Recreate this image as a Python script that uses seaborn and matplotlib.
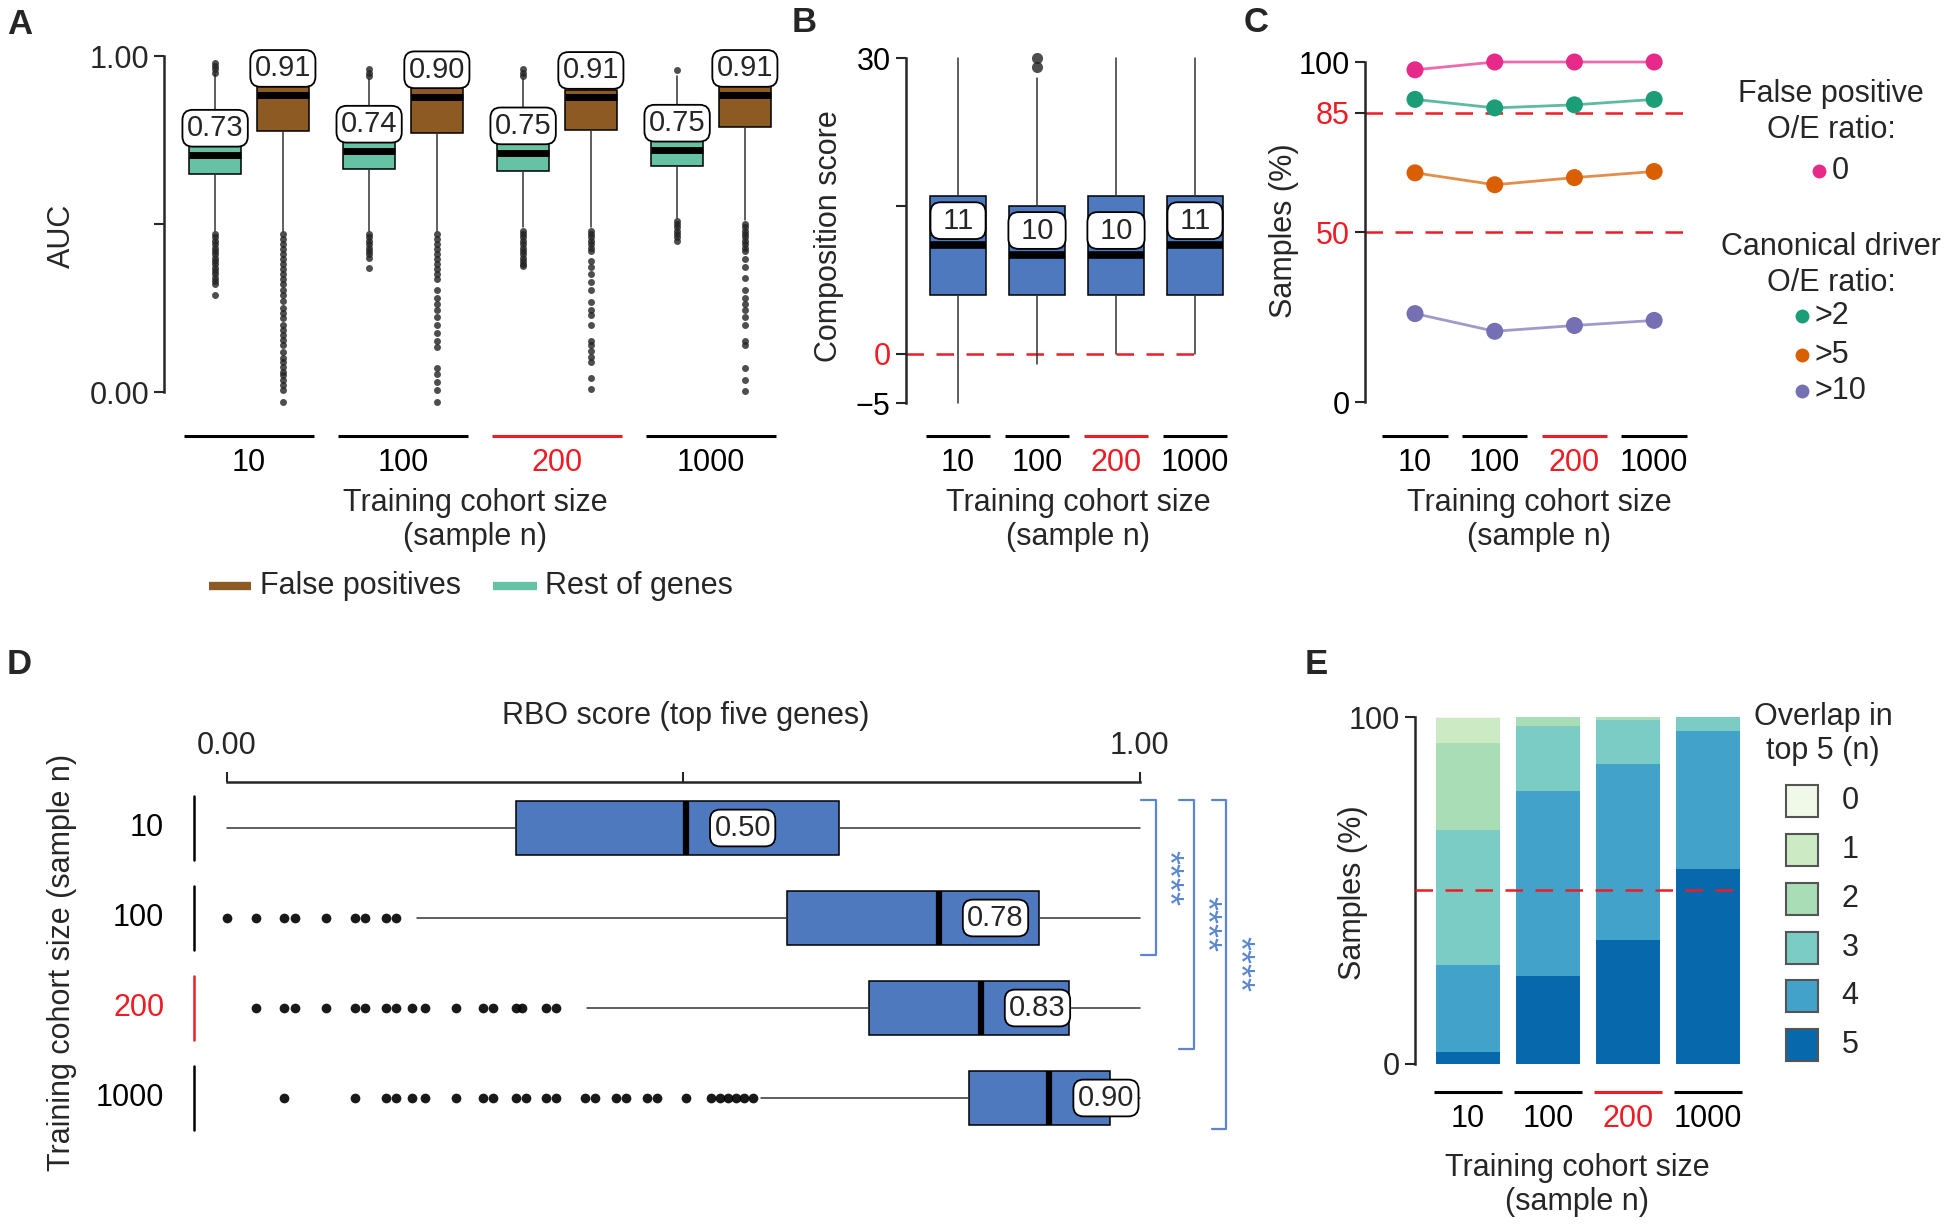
import numpy as np
import pandas as pd
import matplotlib
matplotlib.use('Agg')
import matplotlib.pyplot as plt
import seaborn as sns
from matplotlib.patches import Rectangle

# ---- data ----
sizes = ['10', '100', '200', '1000']
size_colors = ['black', 'black', '#EE1C25', 'black']

# A: AUC, rest of genes (teal) and false positives (brown)
rest_q1 = [0.648, 0.665, 0.657, 0.674]
rest_med = [0.705, 0.717, 0.712, 0.720]
rest_q3 = [0.733, 0.744, 0.744, 0.747]
rest_lo = [0.478, 0.478, 0.490, 0.519]
rest_hi = [0.945, 0.933, 0.933, 0.939]
rest_out = [
    [0.95, 0.96, 0.97, 0.98, 0.47, 0.46, 0.45, 0.44, 0.43, 0.42, 0.41, 0.40, 0.39, 0.38,
     0.37, 0.36, 0.35, 0.34, 0.33, 0.32, 0.29],
    [0.94, 0.95, 0.96, 0.47, 0.46, 0.45, 0.44, 0.43, 0.42, 0.41, 0.40, 0.37],
    [0.94, 0.95, 0.96, 0.48, 0.47, 0.46, 0.45, 0.44, 0.43, 0.42, 0.41, 0.40, 0.39, 0.38, 0.375],
    [0.957, 0.51, 0.50, 0.49, 0.48, 0.47, 0.46, 0.45],
]
rest_lab = ['0.73', '0.74', '0.75', '0.75']

fp_q1 = [0.776, 0.772, 0.780, 0.788]
fp_med = [0.883, 0.879, 0.877, 0.883]
fp_q3 = [0.912, 0.912, 0.900, 0.910]
fp_lo = [0.478, 0.478, 0.490, 0.513]
fp_hi = [0.985, 0.985, 0.985, 0.985]
fp_out = [
    [0.47, 0.455, 0.44, 0.425, 0.41, 0.395, 0.38, 0.365, 0.35, 0.335, 0.32, 0.305, 0.29, 0.27,
     0.25, 0.235, 0.22, 0.20, 0.185, 0.17, 0.155, 0.14, 0.12, 0.10, 0.09, 0.075, 0.06, 0.05,
     0.035, 0.02, 0.005, -0.03],
    [0.47, 0.455, 0.44, 0.425, 0.41, 0.395, 0.38, 0.365, 0.35, 0.335, 0.303, 0.28, 0.262,
     0.245, 0.222, 0.198, 0.175, 0.152, 0.134, 0.07, 0.053, 0.029, 0.006, -0.03],
    [0.48, 0.47, 0.46, 0.45, 0.44, 0.43, 0.42, 0.391, 0.373, 0.35, 0.327, 0.303, 0.268, 0.245,
     0.228, 0.198, 0.152, 0.14, 0.123, 0.105, 0.088, 0.041, 0.008],
    [0.50, 0.49, 0.48, 0.47, 0.46, 0.45, 0.44, 0.43, 0.42, 0.397, 0.373, 0.338, 0.303, 0.28,
     0.262, 0.245, 0.222, 0.198, 0.152, 0.14, 0.07, 0.035, 0.002],
]
fp_lab = ['0.91', '0.90', '0.91', '0.91']

# B: composition score
comp_q1 = [6, 6, 6, 6]
comp_med = [11, 10, 10, 11]
comp_q3 = [16, 15, 16, 16]
comp_lo = [-5, -1, 0, 0]
comp_hi = [30, 28, 30, 30]
comp_out = [[], [30, 29.1], [], []]
comp_lab = ['11', '10', '10', '11']

# C: samples (%)
fp_zero = [97.7, 100, 100, 100]
drv_2 = [89.0, 86.5, 87.4, 89.0]
drv_5 = [67.4, 63.9, 66.0, 67.8]
drv_10 = [26.0, 20.8, 22.5, 24.0]

# D: RBO score
rbo_q1 = [0.317, 0.614, 0.703, 0.813]
rbo_med = [0.503, 0.780, 0.826, 0.901]
rbo_q3 = [0.671, 0.890, 0.923, 0.967]
rbo_lo = [0.0, 0.208, 0.394, 0.585]
rbo_hi = [1.0, 1.0, 1.0, 1.0]
rbo_out = [
    [],
    [0.0, 0.032, 0.063, 0.074, 0.108, 0.140, 0.151, 0.174, 0.185],
    [0.032, 0.063, 0.074, 0.108, 0.140, 0.151, 0.174, 0.185, 0.203, 0.217, 0.251, 0.280,
     0.292, 0.317, 0.323, 0.349, 0.360],
    [0.063, 0.140, 0.174, 0.185, 0.203, 0.217, 0.251, 0.280, 0.292, 0.317, 0.328, 0.349,
     0.360, 0.392, 0.403, 0.426, 0.437, 0.460, 0.471, 0.503, 0.530, 0.540, 0.549, 0.558,
     0.567, 0.576],
]
rbo_lab = ['0.50', '0.78', '0.83', '0.90']

# E: overlap in top 5, levels 0..5 (% of samples)
overlap_levels = ['0', '1', '2', '3', '4', '5']
ov_10 = [0.3, 7.2, 25.0, 39.0, 25.0, 3.5]
ov_100 = [0, 0, 2.5, 18.9, 53.3, 25.3]
ov_200 = [0, 0, 0.9, 12.5, 50.9, 35.7]
ov_1000 = [0, 0, 0, 4.1, 39.8, 56.1]

# ---- style ----
sns.set_style('white')
plt.rcParams['font.family'] = ['Liberation Sans', 'DejaVu Sans']
plt.rcParams['font.size'] = 22

RED = '#EE1C25'
TEAL = '#66C2A5'
BROWN = '#8C5A22'
BLUE = '#4F79BF'
BRK = '#5A87CD'
FS = 22

W, H = 1946, 1225
fig = plt.figure(figsize=(W / 100, H / 100), dpi=100)


def px_axes(x0, y0, x1, y1):
    ax = fig.add_axes([x0 / W, 1 - y1 / H, (x1 - x0) / W, (y1 - y0) / H])
    ax.patch.set_alpha(0)
    return ax


def make_stats(q1, med, q3, lo, hi, out):
    return [dict(q1=a, med=b, q3=c, whislo=d, whishi=e, fliers=f)
            for a, b, c, d, e, f in zip(q1, med, q3, lo, hi, out)]


def box_kw(face, med_lw, fsize, fcol='#222222', falpha=0.8):
    return dict(patch_artist=True, showcaps=False,
                boxprops=dict(facecolor=face, edgecolor='black', linewidth=1.1),
                medianprops=dict(color='black', linewidth=med_lw, solid_capstyle='butt'),
                whiskerprops=dict(color='#333333', linewidth=1.1),
                flierprops=dict(marker='o', markerfacecolor=fcol, markeredgecolor='none',
                                markersize=fsize, alpha=falpha))


def left_axis(ax, lo, hi, ticks, labels, label_colors=None):
    for s in ['top', 'right', 'bottom']:
        ax.spines[s].set_visible(False)
    ax.spines['left'].set_bounds(lo, hi)
    ax.spines['left'].set_linewidth(1.8)
    ax.set_yticks(ticks)
    ax.set_yticklabels(labels)
    ax.tick_params(axis='y', length=7, width=1.5, pad=4, labelsize=FS, left=True)
    ax.set_xticks([])
    if label_colors:
        for tl, c in zip(ax.get_yticklabels(), label_colors):
            tl.set_color(c)


def groups(ax, box, line_py, lab_py, half):
    tr = ax.get_xaxis_transform()
    fl = (box[3] - line_py) / (box[3] - box[1])
    ft = (box[3] - lab_py) / (box[3] - box[1])
    for i, (s, c) in enumerate(zip(sizes, size_colors)):
        ax.plot([i - half, i + half], [fl, fl], transform=tr, color=c, lw=2.2,
                clip_on=False, solid_capstyle='butt')
        ax.text(i, ft, s, transform=tr, color=c, ha='center', va='center', fontsize=FS)


lab_box = dict(boxstyle='round,pad=0.15,rounding_size=0.35', fc='white', ec='black', lw=1.3)

# overlay for free text
ov = fig.add_axes([0, 0, 1, 1])
ov.set_xlim(0, W)
ov.set_ylim(H, 0)
ov.axis('off')


def txt(x, y, s, **kw):
    kw.setdefault('fontsize', FS)
    kw.setdefault('ha', 'center')
    kw.setdefault('va', 'center')
    ov.text(x, y, s, **kw)


pos = np.arange(4)

# ---- A ----
boxA = (164.3, 22.4, 795.7, 425.6)
axA = px_axes(*boxA)
axA.bxp(make_stats(rest_q1, rest_med, rest_q3, rest_lo, rest_hi, rest_out),
        positions=pos - 0.22, widths=0.34, **box_kw(TEAL, 5, 5))
axA.bxp(make_stats(fp_q1, fp_med, fp_q3, fp_lo, fp_hi, fp_out),
        positions=pos + 0.22, widths=0.34, **box_kw(BROWN, 5, 5))
for i in range(4):
    axA.text(i - 0.22, rest_med[i] + 0.08, rest_lab[i], ha='center', va='center',
             fontsize=21, bbox=lab_box, zorder=6)
    axA.text(i + 0.22, fp_med[i] + 0.08, fp_lab[i], ha='center', va='center',
             fontsize=21, bbox=lab_box, zorder=6)
axA.set_xlim(-0.55, 3.55)
axA.set_ylim(-0.1, 1.1)
left_axis(axA, 0, 1, [0, 0.5, 1], ['0.00', '', '1.00'])
groups(axA, boxA, 436, 463, 0.42)

# ---- B ----
boxB = (905.9, 45.2, 1234.5, 409.9)
axB = px_axes(*boxB)
axB.axhline(0, xmin=0, xmax=(3 + 0.66) / 4.16, color=RED, lw=1.8, dashes=(7, 5), zorder=0)
axB.bxp(make_stats(comp_q1, comp_med, comp_q3, comp_lo, comp_hi, comp_out),
        positions=pos, widths=0.72, **box_kw(BLUE, 5.5, 8, '#222222'))
for i in range(4):
    axB.text(i, comp_med[i] + 2.5, ' ' + comp_lab[i] + ' ', ha='center', va='center',
             fontsize=21, bbox=lab_box, zorder=6)
axB.set_xlim(-0.66, 3.5)
axB.set_ylim(-5.7, 31.3)
left_axis(axB, -5, 30, [-5, 0, 15, 30], ['\u22125', '0', '', '30'],
          ['black', RED, 'black', 'black'])
groups(axB, boxB, 436, 463, 0.41)

# ---- C ----
boxC = (1364.8, 51.8, 1690.0, 412.2)
axC = px_axes(*boxC)
c_groups = ['0', '>2', '>5', '>10']
c_pal = {'0': '#E7298A', '>2': '#1B9E77', '>5': '#D95F02', '>10': '#7570B3'}
c_df = pd.DataFrame({
    'pos': np.tile(pos, 4),
    'val': fp_zero + drv_2 + drv_5 + drv_10,
    'grp': np.repeat(c_groups, 4),
})
for yv in [85, 50]:
    axC.axhline(yv, color=RED, lw=1.8, dashes=(7, 5), zorder=0)
sns.lineplot(data=c_df, x='pos', y='val', hue='grp', palette=c_pal, lw=2, alpha=0.7,
             legend=False, ax=axC)
sns.scatterplot(data=c_df, x='pos', y='val', hue='grp', palette=c_pal, s=150, linewidth=0,
                legend=False, ax=axC, zorder=3)
axC.set_xlabel('')
axC.set_ylabel('')
axC.set_xlim(-0.63, 3.45)
axC.set_ylim(-3, 103)
left_axis(axC, 0, 100, [0, 50, 85, 100], ['0', '50', '85', '100'],
          ['black', RED, RED, 'black'])
groups(axC, boxC, 436, 463, 0.41)

# C legend
txt(1831, 112, 'False positive\nO/E ratio:', linespacing=1.25)
ov.plot(1819, 171, 'o', ms=10, color=c_pal['0'], mec='none')
txt(1832, 171, '0', ha='left')
txt(1831, 265, 'Canonical driver\nO/E ratio:', linespacing=1.25)
for g, yy in zip(['>2', '>5', '>10'], [316, 355, 391]):
    ov.plot(1802, yy, 'o', ms=10, color=c_pal[g], mec='none')
    txt(1815, yy, g, ha='left')

# ---- D ----
boxD = (194.1, 782.1, 1304.0, 1143.0)
axD = px_axes(*boxD)
axD.bxp(make_stats(rbo_q1, rbo_med, rbo_q3, rbo_lo, rbo_hi, rbo_out),
        positions=pos, widths=0.6, vert=False, **box_kw(BLUE, 4.5, 7, 'black', 0.9))
for i in range(4):
    axD.text(rbo_med[i] + 0.062, i, rbo_lab[i], ha='center', va='center',
             fontsize=21, bbox=lab_box, zorder=6)
axD.set_xlim(-0.036, 1.18)
axD.set_ylim(3.5, -0.51)
for s in ['left', 'right', 'bottom']:
    axD.spines[s].set_visible(False)
axD.spines['top'].set_bounds(0, 1)
axD.spines['top'].set_linewidth(1.8)
axD.set_yticks([])
axD.set_xticks([0, 0.5, 1])
axD.set_xticklabels(['0.00', '', '1.00'])
axD.tick_params(axis='x', top=True, bottom=False, labeltop=True, labelbottom=False,
                length=7, width=1.5, pad=8, labelsize=FS)
trD = axD.get_yaxis_transform()
for i, (s, c) in enumerate(zip(sizes, size_colors)):
    axD.plot([0, 0], [i - 0.36, i + 0.36], transform=trD, color=c, lw=1.8, clip_on=False)
    axD.text(-0.027, i, s, transform=trD, color=c, ha='right', va='center', fontsize=FS)
# significance brackets against the 10-sample cohort
br_x = [1.0175, 1.059, 1.095]
br_end = [0.41, 0.45, 0.34]
for k, (bx, be) in enumerate(zip(br_x, br_end)):
    y0, y1 = -0.31, k + 1 + be
    axD.plot([bx - 0.016, bx, bx, bx - 0.016], [y0, y0, y1, y1], color=BRK, lw=1.6,
             clip_on=False)
    axD.text(bx + 0.011, (y0 + y1) / 2, '****', rotation=-90, ha='center', va='center',
             color=BRK, fontsize=26)
txt(686, 716, 'RBO score (top five genes)')

# ---- E ----
boxE = (1415.2, 706.6, 1748.0, 1074.4)
axE = px_axes(*boxE)
gnbu = ['#F0F9E8', '#CCEBC5', '#A8DDB5', '#7BCCC4', '#43A2CA', '#0868AC']
ov_mat = np.array([ov_10, ov_100, ov_200, ov_1000]).T
for lev in range(6):
    top = ov_mat[lev:].sum(axis=0)
    sns.barplot(x=sizes, y=top, order=sizes, color=gnbu[lev], width=0.8, saturation=1,
                errorbar=None, linewidth=0, ax=axE)
axE.axhline(50, xmin=0, xmax=(3.4 + 0.66) / 4.16, color=RED, lw=1.8, dashes=(7, 5), zorder=5)
axE.set_xlabel('')
axE.set_ylabel('')
axE.set_xlim(-0.66, 3.5)
axE.set_ylim(-3, 103)
left_axis(axE, 0, 100, [0, 100], ['0', '100'])
groups(axE, boxE, 1092, 1119, 0.42)

# E legend
txt(1823, 734, 'Overlap in\ntop 5 (n)', linespacing=1.15)
for lev, yy in zip(range(6), [801, 850, 899, 948, 996, 1045]):
    ov.add_patch(Rectangle((1786, yy - 16), 32, 32, facecolor=gnbu[lev], edgecolor='#555555',
                           lw=1.5))
    txt(1850, yy, overlap_levels[lev])

# ---- shared labels ----
xl = 'Training cohort size\n(sample n)'
for xc in [475, 1078, 1539]:
    txt(xc, 520, xl, linespacing=1.2)
txt(1577, 1185, xl, linespacing=1.2)
txt(62, 236, 'AUC', rotation=90)
txt(829, 236, 'Composition score', rotation=90)
txt(1284, 231, 'Samples (%)', rotation=90)
txt(62, 962, 'Training cohort size (sample n)', rotation=90)
txt(1353, 893, 'Samples (%)', rotation=90)

# A legend
ov.plot([209, 251], [586, 586], color=BROWN, lw=6, solid_capstyle='butt')
txt(260, 586, 'False positives', ha='left')
ov.plot([493, 537], [586, 586], color=TEAL, lw=6, solid_capstyle='butt')
txt(545, 586, 'Rest of genes', ha='left')

# panel letters
for s, x, y in [('A', 20, 24), ('B', 804, 22), ('C', 1256, 22), ('D', 19, 664), ('E', 1316, 664)]:
    txt(x, y, s, fontsize=25, fontweight='bold')

fig.savefig('out.png', dpi=100)
